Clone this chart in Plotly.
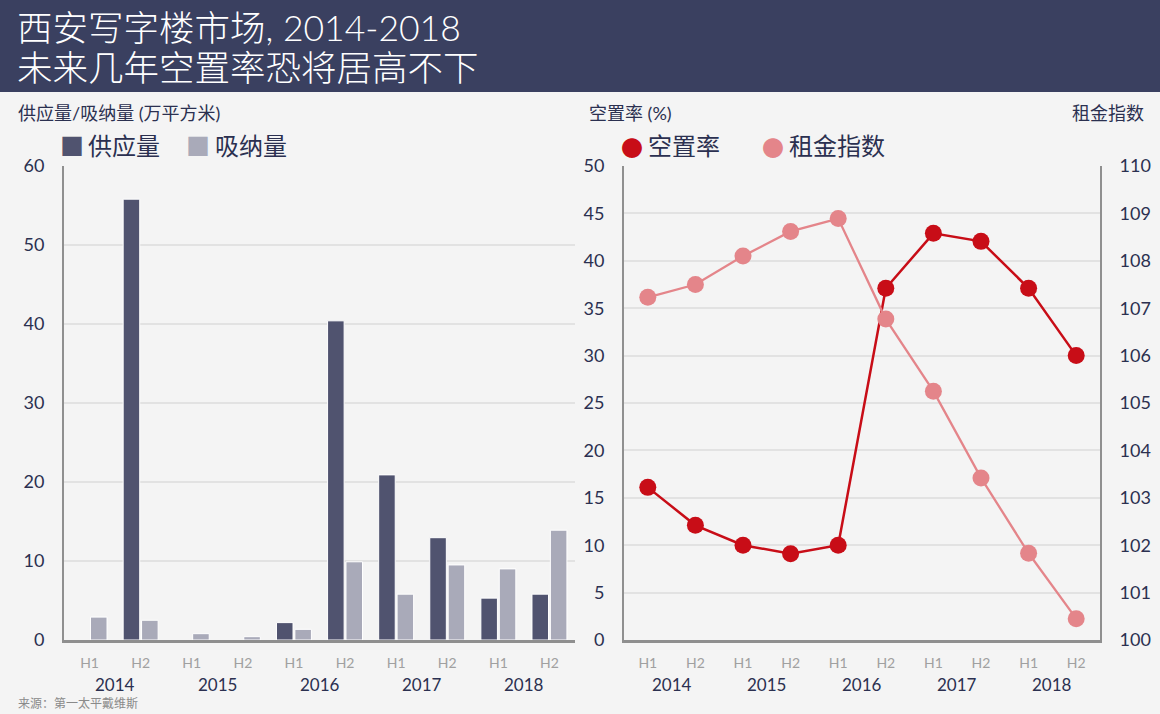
import plotly.graph_objects as go

years = ["2014", "2015", "2016", "2017", "2018"]
halves = ["H1", "H2"]
periods = [y + h for y in years for h in halves]

# 万平方米
supply = [None, 55.8, None, None, 2.2, 40.4, 20.9, 12.95, 5.3, 5.8]
absorption = [2.9, 2.5, 0.8, 0.42, 1.35, 9.9, 5.8, 9.5, 9.0, 13.9]
# %
vacancy = [16.1, 12.1, 10.0, 9.1, 10.0, 37.1, 42.9, 42.05, 37.1, 30.0]
rent_index = [107.23, 107.5, 108.1, 108.62, 108.89, 106.77, 105.25, 103.42, 101.83, 100.45]

W, H = 1160, 714
BG = "#f4f4f4"
NAVY = "#3a4060"
TXT = "#2b3050"
C_SUP = "#50536f"
C_ABS = "#a9aab9"
C_VAC = "#c80d17"
C_RENT = "#e4858a"
FONT = "Lato, Noto Sans CJK SC"
CJK = "Noto Sans CJK SC"


def px(x):
    return x / W


def py(y):
    return 1 - y / H


fig = go.Figure()

fig.add_trace(go.Bar(x=periods, y=supply, name="供应量", marker=dict(color=C_SUP, line=dict(color="white", width=1)),
                     xaxis="x", yaxis="y"))
fig.add_trace(go.Bar(x=periods, y=absorption, name="吸纳量", marker=dict(color=C_ABS, line=dict(color="white", width=1)),
                     xaxis="x", yaxis="y"))
fig.add_trace(go.Scatter(x=periods, y=vacancy, name="空置率", mode="lines+markers",
                         line=dict(color=C_VAC, width=2.5), marker=dict(size=17, color=C_VAC),
                         xaxis="x2", yaxis="y2"))
fig.add_trace(go.Scatter(x=periods, y=rent_index, name="租金指数", mode="lines+markers",
                         line=dict(color=C_RENT, width=2.3), marker=dict(size=17, color=C_RENT),
                         xaxis="x2", yaxis="y3"))

ydom = [py(640), py(166)]
xtick = dict(tickmode="array", tickvals=periods, ticktext=[h for y in years for h in halves],
             tickfont=dict(size=14, color="#a0a0a0"), ticks="", ticklabelstandoff=8, automargin=False,
             showgrid=False, linecolor="#8f8f8f", linewidth=2.5, showline=True)
ytick = dict(tickfont=dict(size=18, color=TXT), gridcolor="#e2e2e2", gridwidth=1.5, automargin=False,
             zeroline=False, showline=True, linecolor="#8f8f8f", linewidth=2, ticks="", ticklabelstandoff=14)

fig.update_layout(
    width=W, height=H,
    template="none",
    paper_bgcolor=BG, plot_bgcolor=BG,
    margin=dict(l=0, r=0, t=0, b=0, pad=0, autoexpand=False),
    font=dict(family=FONT, color=TXT),
    showlegend=False,
    barmode="group", bargap=0.28, bargroupgap=0.1,
    xaxis=dict(domain=[px(64), px(575)], anchor="y", **xtick),
    yaxis=dict(domain=ydom, anchor="x", range=[0, 60], dtick=10, showgrid=True, **ytick),
    xaxis2=dict(domain=[px(624), px(1100)], anchor="y2", range=[-0.5, 9.5], **xtick),
    yaxis2=dict(domain=ydom, anchor="x2", range=[0, 50], dtick=5, showgrid=True, **ytick),
    yaxis3=dict(overlaying="y2", anchor="x2", side="right", range=[100, 110], dtick=1,
                showgrid=False, **ytick),
)

# header band
fig.add_shape(type="rect", xref="paper", yref="paper", x0=0, x1=1, y0=py(92), y1=1,
              fillcolor=NAVY, line=dict(width=0), layer="below")

ann = []
ann.append(dict(text="西安写字楼市场, 2014-2018", x=px(15), y=py(28), font=dict(size=35.5, color="white", weight=300)))
ann.append(dict(text="未来几年空置率恐将居高不下", x=px(15), y=py(67), font=dict(size=35.5, color="white", weight=300)))
ann.append(dict(text="供应量/吸纳量 (万平方米)", x=px(16), y=py(113), font=dict(size=18)))
ann.append(dict(text="空置率 (%)", x=px(587), y=py(113), font=dict(size=18)))
ann.append(dict(text="租金指数", x=px(1146), y=py(113), xanchor="right", font=dict(size=18)))
ann.append(dict(text="来源：第一太平戴维斯", x=px(16), y=py(703), font=dict(size=12, color="#8a8a8a")))

# legends
ann.append(dict(text="■", x=px(72), y=py(146), xanchor="center", font=dict(size=24, color=C_SUP)))
ann.append(dict(text="供应量", x=px(86), y=py(146), font=dict(size=24)))
ann.append(dict(text="■", x=px(198), y=py(146), xanchor="center", font=dict(size=24, color=C_ABS)))
ann.append(dict(text="吸纳量", x=px(213), y=py(146), font=dict(size=24)))
ann.append(dict(text="●", x=px(632), y=py(146), xanchor="center", font=dict(family=CJK, size=22, color=C_VAC)))
ann.append(dict(text="空置率", x=px(646), y=py(146), font=dict(size=24)))
ann.append(dict(text="●", x=px(773), y=py(146), xanchor="center", font=dict(family=CJK, size=22, color=C_RENT)))
ann.append(dict(text="租金指数", x=px(787), y=py(146), font=dict(size=24)))

for a in ann:
    a.setdefault("xanchor", "left")
    a.update(xref="paper", yref="paper", yanchor="middle", showarrow=False)
    fig.add_annotation(**a)

# year labels under the H1/H2 ticks
for xr in ("x", "x2"):
    for i, yr in enumerate(years):
        fig.add_annotation(text=yr, xref=xr, yref="paper", x=2 * i + 0.5, y=py(684),
                           yanchor="middle", showarrow=False, font=dict(size=17, color=TXT))

fig.write_html("out.html", config={"displayModeBar": False},
               post_script="document.body.style.margin='0';document.body.style.padding='0';")
